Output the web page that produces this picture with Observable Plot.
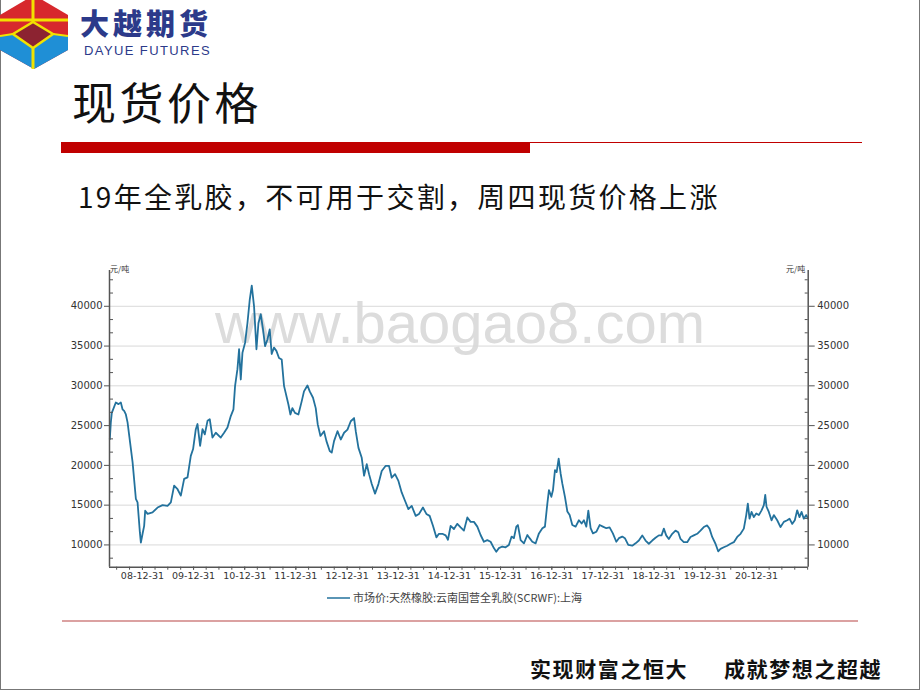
<!DOCTYPE html>
<html><head><meta charset="utf-8">
<script src="https://cdn.jsdelivr.net/npm/d3@7"></script>
<script src="https://cdn.jsdelivr.net/npm/@observablehq/plot@0.6"></script>
<style>
html,body{margin:0;padding:0;background:#fff;}
#page{position:relative;width:920px;height:690px;overflow:hidden;background:#fff;font-family:"Noto Sans CJK SC",sans-serif;}
.abs{position:absolute;white-space:nowrap;line-height:1;}
#frame{position:absolute;left:0;top:0;width:918px;height:689px;border-left:1px solid #777;border-right:1px solid #777;border-bottom:1px solid #777;}
</style></head><body>
<div id="page">
  <div id="frame"></div>
  <svg class="abs" style="left:0;top:0" width="70" height="70" viewBox="0 0 70 70">
    <polygon points="0,15 34,-5 68,15 68,50 34,69 0,50" fill="#d7282d"/>
    <polygon points="0,36 13,34 33,48 53,34 68,36 68,50 34,69 0,50" fill="#1f8fd6"/>
    <polygon points="13,34 33,22 53,34 33,48" fill="#8c2331" stroke="#f2e200" stroke-width="2.5"/>
    <line x1="0" y1="20" x2="68" y2="20" stroke="#f2e200" stroke-width="3"/>
    <line x1="33" y1="-5" x2="33" y2="22" stroke="#f2e200" stroke-width="3"/>
    <line x1="33" y1="48" x2="33" y2="69" stroke="#f2e200" stroke-width="3"/>
    <line x1="0" y1="36" x2="13" y2="34" stroke="#f2e200" stroke-width="2"/>
    <line x1="53" y1="34" x2="68" y2="36" stroke="#f2e200" stroke-width="2"/>
  </svg>
  <div class="abs" style="left:80px;top:8px;font-size:29px;font-weight:900;color:#2c3a8a;letter-spacing:4px;">大越期货</div>
  <div class="abs" style="left:84px;top:44px;font-family:'Liberation Sans',sans-serif;font-size:13px;color:#2c3a8a;letter-spacing:1.4px;">DAYUE FUTURES</div>
  <div class="abs" style="left:72px;top:79px;font-size:44px;color:#111;letter-spacing:3.5px;">现货价格</div>
  <div class="abs" style="left:61px;top:142px;width:469px;height:11px;background:#c00000;"></div>
  <div class="abs" style="left:530px;top:142px;width:332px;height:1px;background:#c00000;"></div>
  <div class="abs" style="left:78px;top:182px;font-size:28px;color:#111;letter-spacing:2.3px;">19年全乳胶，不可用于交割，周四现货价格上涨</div>
  <div class="abs" style="left:215px;top:294px;font-family:'Liberation Sans',sans-serif;font-size:58px;color:#dcdcdc;">www.baogao8.com</div>
  <div id="chart" class="abs" style="left:50px;top:260px;"></div>
  <div class="abs" style="left:110px;top:265px;font-size:8px;color:#333;">元/吨</div>
  <div class="abs" style="left:786px;top:265px;font-size:8px;color:#333;">元/吨</div>
  <svg class="abs" style="left:325px;top:592px" width="28" height="12"><line x1="2" y1="6" x2="25" y2="6" stroke="#23729d" stroke-width="1.5"/></svg>
  <div id="legend" class="abs" style="left:353px;top:592px;font-size:11px;color:#444;"></div>
  <div class="abs" style="left:62px;top:620px;width:796px;height:2px;background:#dba1a1;"></div>
  <div class="abs" style="left:530px;top:658px;font-size:21px;font-weight:700;color:#111;letter-spacing:1.6px;">实现财富之恒大</div>
  <div class="abs" style="left:724px;top:658px;font-size:21px;font-weight:700;color:#111;letter-spacing:1.6px;">成就梦想之超越</div>
</div>
<script>
// ---- data ----
const seriesName = "市场价:天然橡胶:云南国营全乳胶(SCRWF):上海";
const years = [
 2008.361,2008.381,2008.400,2008.478,2008.531,2008.576,2008.609,2008.641,2008.674,2008.707,2008.805,2008.869,2008.902,2008.922,2008.947,2008.967,
 2009.000,2009.031,2009.051,2009.098,2009.195,2009.293,2009.391,2009.488,2009.553,2009.617,2009.684,2009.748,2009.813,2009.879,2009.943,2009.988,
 2010.041,2010.074,2010.125,2010.172,2010.217,2010.270,2010.314,2010.367,2010.432,2010.529,2010.594,2010.660,2010.725,2010.777,2010.809,2010.855,2010.887,2010.920,2010.953,
 2011.004,2011.051,2011.096,2011.135,2011.180,2011.227,2011.266,2011.311,2011.355,2011.395,2011.441,2011.486,2011.525,2011.570,2011.617,2011.668,2011.721,2011.766,
 2011.852,2011.891,2011.930,2011.980,
 2012.047,2012.111,2012.156,2012.223,2012.268,2012.332,2012.385,2012.424,2012.477,2012.547,2012.594,2012.658,2012.697,2012.742,2012.809,2012.873,2012.938,
 2013.004,2013.068,2013.133,2013.166,2013.219,2013.283,2013.328,2013.381,2013.426,2013.479,2013.543,2013.609,2013.674,2013.752,2013.816,2013.869,2013.934,
 2014.000,2014.064,2014.129,2014.195,2014.260,2014.338,2014.402,2014.480,2014.547,2014.611,2014.676,2014.742,2014.793,2014.859,2014.924,2014.969,
 2015.021,2015.086,2015.152,2015.217,2015.281,2015.348,2015.412,2015.477,2015.543,2015.607,2015.672,2015.738,2015.803,2015.867,2015.914,2015.965,
 2016.031,2016.096,2016.160,2016.213,2016.258,2016.305,2016.336,2016.389,2016.453,2016.520,2016.564,2016.617,2016.682,2016.746,2016.813,2016.863,2016.910,2016.941,2016.988,
 2017.020,2017.059,2017.092,2017.131,2017.170,2017.203,2017.254,2017.301,2017.346,2017.398,2017.463,2017.527,2017.580,2017.625,2017.672,2017.711,2017.756,2017.801,2017.867,2017.932,2017.996,
 2018.063,2018.127,2018.191,2018.258,2018.309,2018.375,2018.426,2018.492,2018.570,2018.635,2018.699,2018.766,2018.830,2018.895,2018.961,
 2019.025,2019.090,2019.143,2019.188,2019.234,2019.285,2019.352,2019.416,2019.469,2019.514,2019.578,2019.645,2019.709,2019.773,2019.840,2019.904,2019.969,
 2020.035,2020.080,2020.133,2020.197,2020.250,2020.295,2020.359,2020.426,2020.490,2020.555,2020.621,2020.686,2020.750,2020.797,2020.828,2020.861,2020.900,2020.945,2020.992,
 2021.043,2021.096,2021.141,2021.168,2021.193,2021.238,2021.291,2021.336,2021.402,2021.467,2021.531,2021.598,2021.643,2021.695,2021.746,2021.793,2021.838,2021.879,2021.922,2021.969,2022.005
];
const prices = [
 23300,25400,26600,27900,27700,27900,27050,26850,26400,25400,20400,15800,15350,13700,11600,10300,
 11400,12400,14300,13900,14100,14700,15000,14900,15350,17450,17000,16200,18300,18500,21200,22050,
 24550,25200,22450,24550,23900,25600,25800,23500,24100,23500,24100,24750,26200,27050,30000,32100,34600,30800,34150,
 35400,37900,40850,42600,40000,34600,37900,39000,37100,35000,35800,37100,34000,34800,34400,33500,33300,30000,
 27650,26400,27200,26600,
 26400,28050,29300,30050,29300,28500,27200,25150,23700,24300,23050,21800,21600,23050,24300,23250,24100,
 24500,25550,25950,24300,22200,20950,18700,20150,18900,17650,16450,17650,19300,19950,19950,18450,18900,
 18050,16600,15550,14500,14900,13650,13900,14700,13900,13650,12400,10950,11400,11400,11200,10650,
 12400,12000,12650,12200,11800,13450,12900,12900,12300,11250,10400,10600,10400,9600,9150,9600,
 9800,9700,10000,11050,10850,12300,12500,10600,10200,11250,10850,10400,10200,11450,12100,12300,15200,16900,16050,
 16900,19400,19150,20850,18950,17700,16050,14200,13750,12500,12300,13100,12700,13100,12300,14300,12100,11450,11650,12500,12300,
 12100,12200,11450,10400,10850,11050,10850,10000,9900,10200,10550,11200,10550,10150,10550,
 10900,11200,11200,12050,11200,10750,11400,11800,11600,10750,10350,10350,11000,11200,11400,11800,12250,
 12450,12050,11000,10150,9200,9500,9700,9900,10150,10350,11000,11400,12050,13750,15200,13300,14150,13500,13950,
 13750,14350,15000,16300,14800,14150,13100,13750,13100,12250,12900,13100,13300,12650,13100,14350,13500,14150,13300,13750,13300
];
const yearEndLabels = ["08-12-31","09-12-31","10-12-31","11-12-31","12-12-31","13-12-31","14-12-31","15-12-31","16-12-31","17-12-31","18-12-31","19-12-31","20-12-31"];
const yMajorTicks = [10000,15000,20000,25000,30000,35000,40000];
const yDomain = [7200, 44500];
const xDomainYears = [2008.355, 2022.008];

// ---- build ----
function yearToDate(t){const y=Math.floor(t);const a=Date.UTC(y,0,1),b=Date.UTC(y+1,0,1);return new Date(a+(t-y)*(b-a));}
const data = years.map((t,i)=>({date:yearToDate(t), price:prices[i]}));
const xDomain = xDomainYears.map(yearToDate);
const yearEnds = yearEndLabels.map(d3.utcParse("%y-%m-%d"));
const quarterTicks = d3.utcMonth.every(3).range(d3.utcYear.floor(xDomain[0]), xDomain[1])
  .map(d=>d3.utcDay.offset(d,-1)).filter(d=>d>=xDomain[0] && d<=xDomain[1]);
const minorTicks = d3.range(0,30).map(i=>5000+i*5000/3).filter(v=>v>yDomain[0]&&v<yDomain[1]&&Math.abs(v/5000-Math.round(v/5000))>1e-6);

const W=810,H=330,mL=59,mR=52.3,mT=10,mB=23.3,innerW=W-mL-mR;
const axisColor="#555";
const chart = Plot.plot({
  width:W,height:H,marginLeft:mL,marginRight:mR,marginTop:mT,marginBottom:mB,
  style:{background:"transparent",fontFamily:"'DejaVu Sans',sans-serif",fontSize:"10px",color:"#333",overflow:"visible"},
  x:{type:"utc",domain:xDomain},
  y:{domain:yDomain},
  marks:[
    Plot.ruleY(yMajorTicks,{stroke:"#d9d9d9",strokeWidth:1}),
    Plot.lineY(data,{x:"date",y:"price",stroke:"#23729d",strokeWidth:1.8,strokeLinejoin:"round"}),
    Plot.tickY(minorTicks,{stroke:axisColor,insetRight:innerW-4}),
    Plot.tickY(minorTicks,{stroke:axisColor,insetLeft:innerW-3}),
    Plot.axisY({anchor:"left",ticks:yMajorTicks,tickSize:5,tickPadding:2,tickFormat:"d",label:null,stroke:axisColor,fill:"#333",fontSize:10}),
    Plot.axisY({anchor:"right",ticks:yMajorTicks,tickSize:6,tickPadding:3,tickFormat:"d",label:null,stroke:axisColor,fill:"#333",fontSize:10}),
    Plot.axisX({ticks:quarterTicks,tickSize:3,tickFormat:()=>"",label:null,stroke:axisColor}),
    Plot.axisX({ticks:yearEnds,tickSize:3,tickPadding:2,tickFormat:"%y-%m-%d",label:null,stroke:axisColor,fill:"#333",fontSize:9.5}),
    Plot.ruleX(xDomain,{stroke:axisColor,strokeWidth:1.5}),
    Plot.ruleY([yDomain[0]],{stroke:axisColor,strokeWidth:1.5})
  ]
});
document.getElementById("chart").appendChild(chart);
document.getElementById("legend").textContent = seriesName;
</script>
</body></html>
